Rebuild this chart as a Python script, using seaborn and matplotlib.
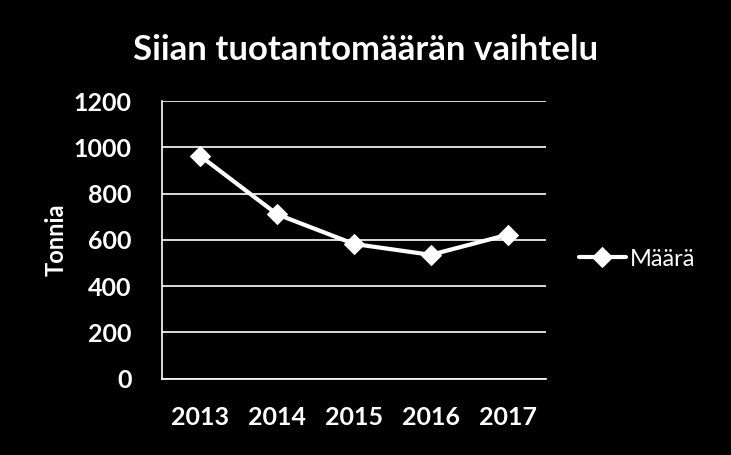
import pandas as pd
import seaborn as sns
import matplotlib.pyplot as plt

# data
years = ['2013', '2014', '2015', '2016', '2017']
tonnia = [962, 710, 582, 535, 622]
series_name = 'Määrä'
y_ticks = [0, 200, 400, 600, 800, 1000, 1200]

df = pd.DataFrame({'vuosi': years, 'tonnia': tonnia, 'sarja': series_name})

sns.set_style('dark')
plt.rcParams['font.family'] = ['Lato', 'DejaVu Sans']

fig = plt.figure(figsize=(7.31, 4.55), dpi=100, facecolor='black')
ax = fig.add_axes([0.2216, 0.168, 0.5254, 0.61])
ax.set_facecolor('black')

sns.lineplot(data=df, x='vuosi', y='tonnia', hue='sarja', palette=['white'],
             marker='D', markersize=10, linewidth=3, markeredgecolor='white',
             sort=False, ax=ax)

ax.set_xlim(-0.5, 4.5)
ax.set_ylim(0, 1200)
ax.set_yticks(y_ticks, [str(v) for v in y_ticks], fontweight='bold', fontsize=18)
ax.set_xticks(range(len(years)), years, fontweight='bold', fontsize=18)
ax.grid(axis='y', color='white', linewidth=1.2)
ax.grid(axis='x', visible=False)
for side in ['top', 'right']:
    ax.spines[side].set_visible(False)
for side in ['left', 'bottom']:
    ax.spines[side].set_color('white')
    ax.spines[side].set_linewidth(1.2)
ax.tick_params(colors='white', length=0)
ax.tick_params(axis='y', pad=22)
ax.tick_params(axis='x', pad=20)

ax.set_xlabel('')
ax.set_ylabel('Tonnia', color='white', fontsize=17, fontweight='bold', labelpad=4)

fig.suptitle('Siian tuotantomäärän vaihtelu', color='white', fontsize=25,
             fontweight='bold', x=0.5, y=0.925)

leg = ax.legend(loc='center left', bbox_to_anchor=(1.03, 0.43), frameon=False,
                fontsize=17, handlelength=2.0, handletextpad=0.15)
for t in leg.get_texts():
    t.set_color('white')

fig.savefig('out.png', dpi=100, facecolor='black')
